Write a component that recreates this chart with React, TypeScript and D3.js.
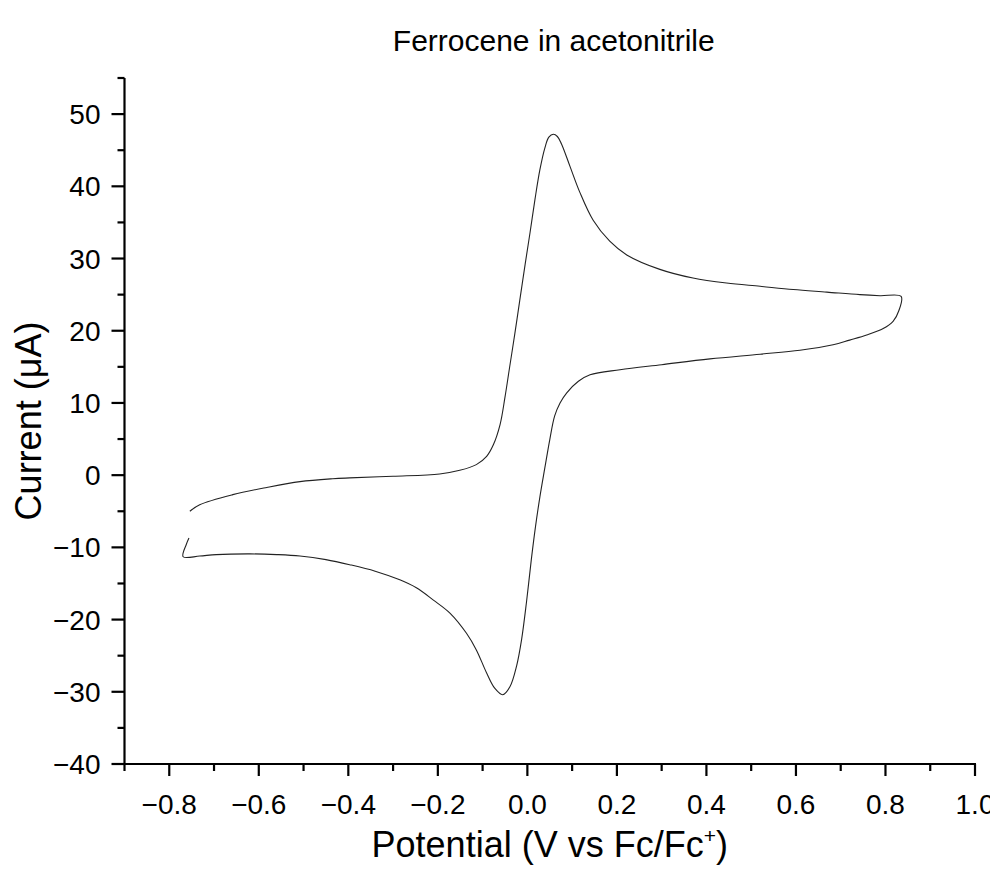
import React from "react";
import * as d3 from "d3";

// Forward (anodic) scan: potential in V vs Fc/Fc+, current in µA
const forwardPotential = [
  -0.754, -0.732, -0.658, -0.582, -0.508, -0.435, -0.397, -0.3, -0.196, -0.151,
  -0.114, -0.091, -0.076, -0.061, -0.05, -0.04, -0.028, -0.017, -0.005, 0.006,
  0.017, 0.028, 0.039, 0.048, 0.058, 0.067, 0.076, 0.095, 0.117, 0.147, 0.184,
  0.222, 0.296, 0.37, 0.445, 0.52, 0.594, 0.669, 0.743, 0.788, 0.835,
];
const forwardCurrent = [
  -5.0, -4.1, -2.7, -1.7, -0.9, -0.5, -0.38, -0.15, 0.17, 0.67,
  1.46, 2.6, 4.2, 7.0, 10.8, 14.8, 19.6, 24.2, 29.2, 33.6,
  38.2, 42.3, 45.3, 46.8, 47.2, 46.9, 45.9, 42.8, 39.2, 35.3, 32.4,
  30.5, 28.5, 27.3, 26.6, 26.15, 25.7, 25.35, 25.0, 24.85, 24.75,
];

// Reverse (cathodic) scan
const reversePotential = [
  0.835, 0.83, 0.817, 0.795, 0.758, 0.72, 0.683, 0.609, 0.52, 0.408, 0.3,
  0.207, 0.14, 0.114, 0.088, 0.073, 0.061, 0.05, 0.039, 0.028, 0.018, 0.009,
  -0.002, -0.013, -0.024, -0.039, -0.055, -0.073, -0.091, -0.114, -0.136,
  -0.173, -0.21, -0.248, -0.285, -0.34, -0.397, -0.45, -0.508, -0.56, -0.62,
  -0.695, -0.732, -0.769, -0.762, -0.756,
];
const reverseCurrent = [
  24.75, 22.8, 21.3, 20.3, 19.4, 18.7, 18.05, 17.3, 16.75, 16.1, 15.3,
  14.6, 13.9, 13.0, 11.4, 10.0, 8.2, 4.9, 1.0, -3.0, -7.2, -11.6,
  -17.6, -22.8, -26.4, -29.3, -30.4, -29.5, -27.4, -24.2, -21.9,
  -19.1, -17.3, -15.6, -14.5, -13.3, -12.4, -11.7, -11.2, -11.0, -10.9,
  -11.0, -11.2, -11.3, -9.6, -8.7,
];

const xTicks = [-0.8, -0.6, -0.4, -0.2, 0.0, 0.2, 0.4, 0.6, 0.8, 1.0];
const yTicks = [-40, -30, -20, -10, 0, 10, 20, 30, 40, 50];
const xMinorTicks = [-0.9, -0.7, -0.5, -0.3, -0.1, 0.1, 0.3, 0.5, 0.7, 0.9];
const yMinorTicks = [-35, -25, -15, -5, 5, 15, 25, 35, 45, 55];

const W = 998;
const H = 873;
const margin = { left: 124.5, right: 23, top: 78, bottom: 109 };
const FONT = "'Liberation Sans', Arial, sans-serif";

const fmtTick = (v: number) => {
  const s = v.toFixed(1);
  return v < 0 ? "\u2212" + s.slice(1) : s;
};
const fmtY = (v: number) => (v < 0 ? "\u2212" + Math.abs(v) : String(v));

export default function App() {
  const x = d3.scaleLinear().domain([-0.9, 1.0]).range([margin.left, W - margin.right]);
  const y = d3.scaleLinear().domain([-40, 55]).range([H - margin.bottom, margin.top]);

  const points = [
    ...forwardPotential.map((p, i) => [p, forwardCurrent[i]] as [number, number]),
    ...reversePotential.slice(1).map((p, i) => [p, reverseCurrent[i + 1]] as [number, number]),
  ];
  const line = d3
    .line<[number, number]>()
    .x((d) => x(d[0]))
    .y((d) => y(d[1]))
    .curve(d3.curveCatmullRom.alpha(0.5));

  const x0 = x(-0.9);
  const y0 = y(-40);
  const cx = (x(-0.9) + x(1.0)) / 2;

  return (
    <svg width={W} height={H} style={{ display: "block", margin: "-8px", background: "#fff" }}>
      <rect width={W} height={H} fill="#fff" />
      <text x={cx + 4} y={51} textAnchor="middle" fontFamily={FONT} fontSize={30} fill="#000">
        Ferrocene in acetonitrile
      </text>

      <path d={line(points) ?? ""} fill="none" stroke="#222" strokeWidth={1.1} />

      {/* axes */}
      <line x1={x0} x2={x0} y1={y(55)} y2={y0 + 1} stroke="#000" strokeWidth={2.2} />
      <line x1={x0 - 1} x2={x(1.0) + 1} y1={y0} y2={y0} stroke="#000" strokeWidth={2.2} />

      {xTicks.map((t) => (
        <g key={"xt" + t}>
          <line x1={x(t)} x2={x(t)} y1={y0} y2={y0 + 12} stroke="#000" strokeWidth={2.2} />
          <text x={x(t)} y={814} textAnchor="middle" fontFamily={FONT} fontSize={28} fill="#000">
            {fmtTick(t)}
          </text>
        </g>
      ))}
      {xMinorTicks.map((t) => (
        <line key={"xm" + t} x1={x(t)} x2={x(t)} y1={y0} y2={y0 + 7} stroke="#000" strokeWidth={2.2} />
      ))}
      {yTicks.map((t) => (
        <g key={"yt" + t}>
          <line x1={x0 - 13} x2={x0} y1={y(t)} y2={y(t)} stroke="#000" strokeWidth={2.2} />
          <text x={x0 - 24} y={y(t)} dy="0.36em" textAnchor="end" fontFamily={FONT} fontSize={28} fill="#000">
            {fmtY(t)}
          </text>
        </g>
      ))}
      {yMinorTicks.map((t) => (
        <line key={"ym" + t} x1={x0 - 7} x2={x0} y1={y(t)} y2={y(t)} stroke="#000" strokeWidth={2.2} />
      ))}

      <text x={cx} y={857} textAnchor="middle" fontFamily={FONT} fontSize={36} fill="#000">
        Potential (V vs Fc/Fc
        <tspan dy={-14} fontSize={21}>+</tspan>
        <tspan dy={14}>)</tspan>
      </text>
      <text
        transform={`translate(41,${(y(55) + y0) / 2}) rotate(-90)`}
        textAnchor="middle"
        fontFamily={FONT}
        fontSize={36}
        fill="#000"
      >
        Current (μA)
      </text>
    </svg>
  );
}
